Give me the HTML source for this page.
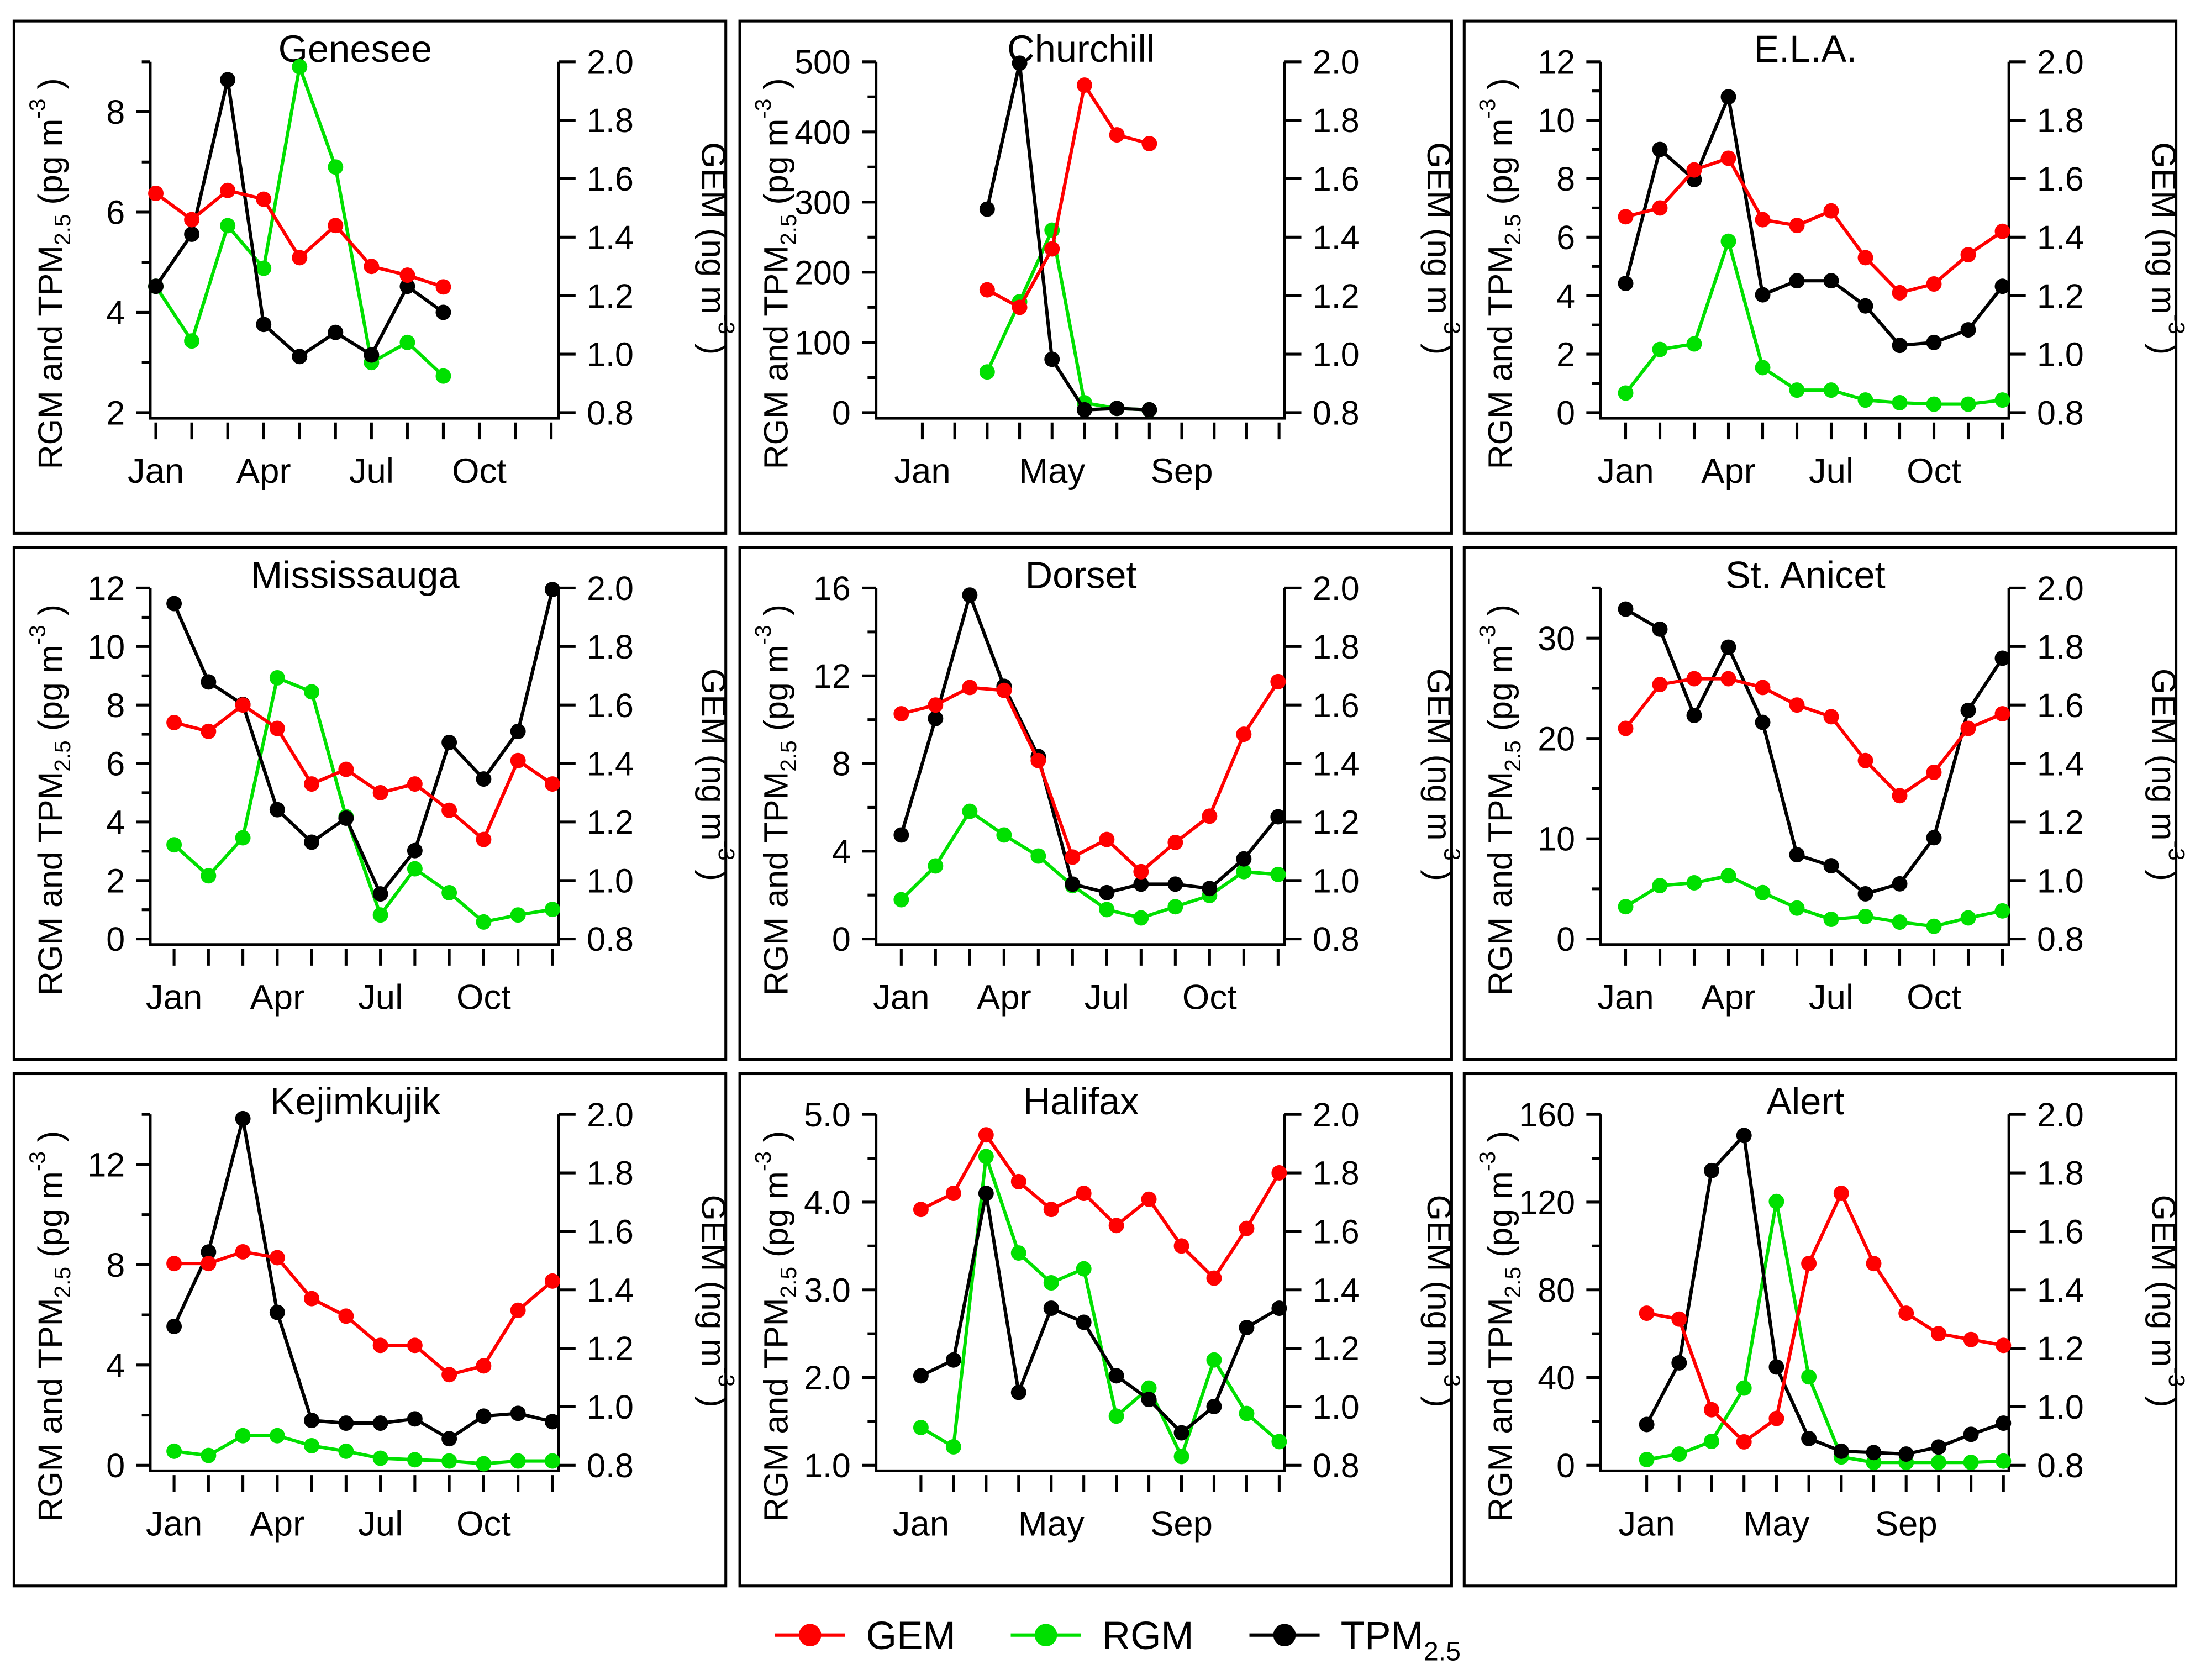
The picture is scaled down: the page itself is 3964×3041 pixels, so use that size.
<!DOCTYPE html>
<html><head><meta charset="utf-8"><style>
html,body{margin:0;padding:0;background:#fff;}
svg{display:block;font-family:"Liberation Sans",Arial,sans-serif;}
</style></head><body>
<svg id="fig" width="3964" height="3041" viewBox="0 0 1560 1197" preserveAspectRatio="none" xmlns="http://www.w3.org/2000/svg"></svg>
<script>
const siteNames = ["Genesee","Churchill","E.L.A.","Mississauga","Dorset","St. Anicet","Kejimkujik","Halifax","Alert"];
const leftMin = [2,0,0,0,0,0,0,1,0];
const leftMax = [9,500,12,12,16,35,14,5,160];
const leftTicks = [[2,4,6,8],[0,100,200,300,400,500],[0,2,4,6,8,10,12],[0,2,4,6,8,10,12],[0,4,8,12,16],[0,10,20,30],[0,4,8,12],[1,2,3,4,5],[0,40,80,120,160]];
const leftMinor = [1,50,1,1,2,5,2,0.5,20];
const leftDecimals = [0,0,0,0,0,0,0,1,0];
const gemTicks = [0.8,1.0,1.2,1.4,1.6,1.8,2.0];
const monthLabelSets = [["Jan","Apr","Jul","Oct"],["Jan","May","Sep"]];
const monthLabelPos = [[1,4,7,10],[1,5,9]];
const labelSet = [0,1,0,0,0,0,0,1,1];
const months = [
 [1,2,3,4,5,6,7,8,9],[3,4,5,6,7,8],[1,2,3,4,5,6,7,8,9,10,11,12],
 [1,2,3,4,5,6,7,8,9,10,11,12],[1,2,3,4,5,6,7,8,9,10,11,12],[1,2,3,4,5,6,7,8,9,10,11,12],
 [1,2,3,4,5,6,7,8,9,10,11,12],[1,2,3,4,5,6,7,8,9,10,11,12],[1,2,3,4,5,6,7,8,9,10,11,12]];
const gemValues = [
 [1.55,1.46,1.56,1.53,1.33,1.44,1.30,1.27,1.23],
 [1.22,1.16,1.36,1.92,1.75,1.72],
 [1.47,1.50,1.63,1.67,1.46,1.44,1.49,1.33,1.21,1.24,1.34,1.42],
 [1.54,1.51,1.60,1.52,1.33,1.38,1.30,1.33,1.24,1.14,1.41,1.33],
 [1.57,1.60,1.66,1.65,1.41,1.08,1.14,1.03,1.13,1.22,1.50,1.68],
 [1.52,1.67,1.69,1.69,1.66,1.60,1.56,1.41,1.29,1.37,1.52,1.57],
 [1.49,1.49,1.53,1.51,1.37,1.31,1.21,1.21,1.11,1.14,1.33,1.43],
 [1.675,1.73,1.93,1.77,1.675,1.73,1.62,1.71,1.55,1.44,1.61,1.80],
 [1.32,1.30,0.99,0.88,0.96,1.49,1.73,1.49,1.32,1.25,1.23,1.21]];
const rgmValues = [
 [4.52,3.43,5.73,4.88,8.9,6.9,3.0,3.4,2.73],
 [58,158,260,14,6,4],
 [0.67,2.16,2.35,5.86,1.54,0.77,0.77,0.43,0.34,0.29,0.29,0.43],
 [3.22,2.16,3.46,8.93,8.45,4.18,0.82,2.40,1.58,0.58,0.82,1.01],
 [1.79,3.33,5.82,4.74,3.78,2.43,1.34,0.96,1.47,1.98,3.07,2.94],
 [3.22,5.32,5.6,6.3,4.62,3.08,1.96,2.24,1.68,1.26,2.1,2.8],
 [0.56,0.39,1.18,1.18,0.78,0.56,0.28,0.22,0.17,0.06,0.17,0.17],
 [1.43,1.21,4.52,3.42,3.08,3.24,1.56,1.88,1.10,2.2,1.59,1.27],
 [2.6,5.1,10.9,35.2,120.3,40.3,3.8,1.3,1.3,1.3,1.3,1.9]];
const tpmValues = [
 [4.52,5.56,8.64,3.76,3.12,3.6,3.15,4.52,4.0],
 [290,498,76,4,6,4],
 [4.42,9.0,7.97,10.8,4.03,4.51,4.51,3.65,2.30,2.40,2.83,4.32],
 [11.47,8.79,8.02,4.42,3.31,4.13,1.54,3.02,6.72,5.47,7.10,11.95],
 [4.74,10.05,15.68,11.52,8.32,2.50,2.11,2.50,2.50,2.30,3.65,5.57],
 [32.9,30.9,22.3,29.1,21.6,8.4,7.3,4.5,5.5,10.1,22.8,28.0],
 [5.54,8.51,13.83,6.10,1.79,1.68,1.68,1.85,1.06,1.96,2.07,1.74],
 [2.02,2.2,4.1,1.83,2.79,2.63,2.02,1.75,1.37,1.67,2.57,2.79],
 [18.6,46.7,134.4,150.4,44.8,12.2,6.4,5.8,5.1,8.3,14.1,19.2]];

const NS="http://www.w3.org/2000/svg";
const svg=document.getElementById('fig');
function mk(tag,attrs,parent){const e=document.createElementNS(NS,tag);for(const k in attrs)e.setAttribute(k,attrs[k]);(parent||svg).appendChild(e);return e;}
const panelX=[10,527,1043], panelY=[15,390,765];
const janPos=[101,130,115,114,115,115,114,129,130];
const monStep=[25.6,23.1,24.4,24.5,24.4,24.4,24.5,23.2,23.1];
const L=97,R=388,T=29,B=279,AX=283;
for(let p=0;p<9;p++){
  const ox=panelX[p%3], oy=panelY[Math.floor(p/3)];
  const g=mk('g',{transform:`translate(${ox},${oy})`});
  
  
  const border=mk('rect',{x:0,y:0,width:507,height:365,fill:'none',stroke:'#000','stroke-width':2},g);
  
  
  const xs=m=>janPos[p]+(m-1)*monStep[p];
  const yl=v=>B-(v-leftMin[p])/(leftMax[p]-leftMin[p])*(B-T);
  const yr=v=>B-(v-0.8)/1.2*(B-T);
  const title=mk('text',{x:243,y:29,'font-size':27,'text-anchor':'middle',fill:'#000'},g);
  title.textContent=siteNames[p];
  
  
  const ax=mk('path',{d:`M${L},${T}V${AX}H${R}V${T}`,fill:'none',stroke:'#000','stroke-width':2},g);
  
  
  let d='';
  for(let v=leftMin[p];v<=leftMax[p]+1e-9;v+=leftMinor[p]){d+=`M${L},${yl(v)}h-6`;}
  leftTicks[p].forEach(v=>{d+=`M${L},${yl(v)}h-10`;
    const t=mk('text',{x:L-18,y:yl(v)+8.5,'font-size':24,'text-anchor':'end'},g);
    t.textContent=v.toFixed(leftDecimals[p]);
    
    });
  gemTicks.forEach(v=>{d+=`M${R},${yr(v)}h12`;
    const t=mk('text',{x:R+20,y:yr(v)+8.5,'font-size':24},g);
    t.textContent=v.toFixed(1);
    
    });
  for(let m=1;m<=12;m++){d+=`M${xs(m)},${AX+3}v12`;}
  mk('path',{d:d,stroke:'#000','stroke-width':2,fill:'none'},g);
  const ls=labelSet[p];
  monthLabelSets[ls].forEach((s,i)=>{
    const t=mk('text',{x:xs(monthLabelPos[ls][i]),y:329,'font-size':25,'text-anchor':'middle'},g);
    t.textContent=s;
    
    });
  const yt=mk('text',{transform:`translate(34,180) rotate(-90)`,'font-size':24,'text-anchor':'middle'},g);
  yt.innerHTML='RGM and TPM<tspan font-size="16" dy="6">2.5</tspan><tspan dy="-6"> (pg m</tspan><tspan font-size="16" dy="-12">-3</tspan><tspan dy="12"> )</tspan>';
  
  
  const rt=mk('text',{transform:`translate(490,162) rotate(90)`,'font-size':24,'text-anchor':'middle'},g);
  rt.innerHTML='GEM (ng m<tspan font-size="16" dy="-12">-3</tspan><tspan dy="12"> )</tspan>';
  
  
  const series=[[rgmValues[p],yl,'#00e000','rgm'],[tpmValues[p],yl,'#000','tpm'],[gemValues[p],yr,'#ff0000','gem']];
  series.forEach(([vals,yf,col,nm])=>{
    const pts=vals.map((v,i)=>[xs(months[p][i]),yf(v)]);
    const line=mk('polyline',{points:pts.map(q=>q.join(',')).join(' '),fill:'none',stroke:col,'stroke-width':2.4},g);
    
    
    pts.forEach(q=>{const c=mk('circle',{cx:q[0],cy:q[1],r:5.5,fill:col},g);
      
      });
  });
}
const leg=[['GEM','#ff0000',552],['RGM','#00e000',720],['TPM','#000',890]];
leg.forEach(([n,c,x])=>{
  const g=mk('g',{});
  
  
  mk('line',{x1:x,y1:1165,x2:x+50,y2:1165,stroke:c,'stroke-width':2.4},g);
  mk('circle',{cx:x+25,cy:1165,r:8,fill:c},g);
  const t=mk('text',{x:x+65,y:1175,'font-size':28},g);
  if(n==='TPM') t.innerHTML='TPM<tspan font-size="19" dy="8">2.5</tspan>'; else t.textContent=n;
});
</script>
</body></html>
